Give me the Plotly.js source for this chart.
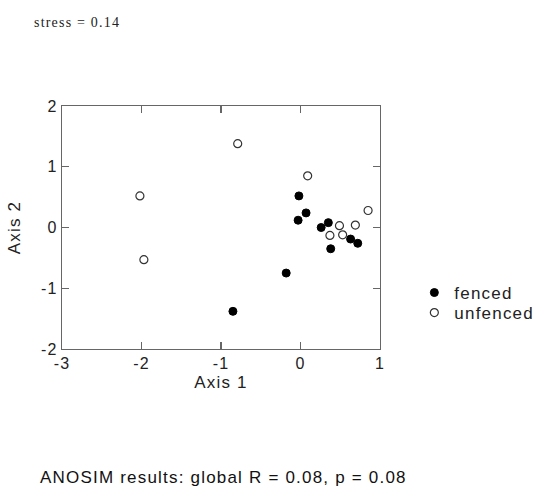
<!DOCTYPE html>
<html>
<head>
<meta charset="utf-8">
<script src="https://cdn.plot.ly/plotly-3.0.1.min.js"></script>
<style>
html,body{margin:0;padding:0;background:#fff;}
#chart{width:540px;height:487px;}
svg text{letter-spacing:1.2px;}
</style>
</head>
<body>
<div id="chart"></div>
<script>
// Data (NMDS ordination)
const fencedX = [-0.02, 0.07, -0.03, 0.26, 0.35, 0.38, 0.63, 0.72, -0.18, -0.85];
const fencedY = [0.52, 0.24, 0.12, 0.00, 0.08, -0.35, -0.19, -0.26, -0.75, -1.38];
const unfencedX = [-0.79, 0.09, -2.02, -1.97, 0.85, 0.49, 0.69, 0.37, 0.53];
const unfencedY = [1.38, 0.85, 0.52, -0.53, 0.28, 0.03, 0.04, -0.13, -0.12];
const xTicks = [-3, -2, -1, 0, 1];
const yTicks = [-2, -1, 0, 1, 2];
const stressText = "stress = 0.14";
const anosimText = "ANOSIM results: global R = 0.08, p = 0.08";

const sans = 'Liberation Sans, Arial, sans-serif';
const axisCommon = {
  showgrid: false, zeroline: false, showline: true, mirror: 'ticks',
  linecolor: '#666', linewidth: 1.2,
  ticks: 'inside', ticklen: 7, tickwidth: 1.2, tickcolor: '#666',
  tickfont: {family: sans, size: 16, color: '#222'}
};

const traces = [
  {x: fencedX, y: fencedY, mode: 'markers', type: 'scatter', name: 'fenced', legend: 'legend',
   marker: {symbol: 'circle', size: 8, color: '#000', line: {color: '#000', width: 1}}},
  {x: unfencedX, y: unfencedY, mode: 'markers', type: 'scatter', name: 'unfenced', legend: 'legend2',
   marker: {symbol: 'circle', size: 8, color: '#fff', line: {color: '#333', width: 1.2}}}
];

const legendFont = {family: sans, size: 17, color: '#222'};
const layout = {
  width: 540, height: 487,
  margin: {l: 62, r: 160, t: 106, b: 138, autoexpand: false},
  paper_bgcolor: '#fff', plot_bgcolor: '#fff',
  showlegend: true,
  legend: {x: 1.108, y: 0.2305, xanchor: 'left', yanchor: 'middle', font: legendFont,
           itemwidth: 30, bgcolor: 'rgba(0,0,0,0)'},
  legend2: {x: 1.108, y: 0.148, xanchor: 'left', yanchor: 'middle', font: legendFont,
           itemwidth: 30, bgcolor: 'rgba(0,0,0,0)'},
  xaxis: Object.assign({}, axisCommon, {
    range: [-3, 1], tickvals: xTicks, ticktext: xTicks.map(String),
    title: {text: 'Axis 1', standoff: 4, font: {family: sans, size: 17, color: '#222'}}
  }),
  yaxis: Object.assign({}, axisCommon, {
    range: [-2, 2], tickvals: yTicks, ticktext: yTicks.map(String),
    title: {text: 'Axis 2', standoff: 16, font: {family: sans, size: 17, color: '#222'}}
  }),
  annotations: [
    {text: stressText, xref: 'paper', yref: 'paper', x: -0.094, y: 1.343, xanchor: 'left', yanchor: 'middle',
     showarrow: false, font: {family: 'Liberation Serif, Times New Roman, serif', size: 14, color: '#222'}},
    {text: anosimText, xref: 'paper', yref: 'paper', x: -0.0755, y: -0.527, xanchor: 'left', yanchor: 'middle',
     showarrow: false, font: {family: sans, size: 17, color: '#111'}}
  ]
};

Plotly.newPlot('chart', traces, layout, {displayModeBar: false, staticPlot: true});
</script>
</body>
</html>
